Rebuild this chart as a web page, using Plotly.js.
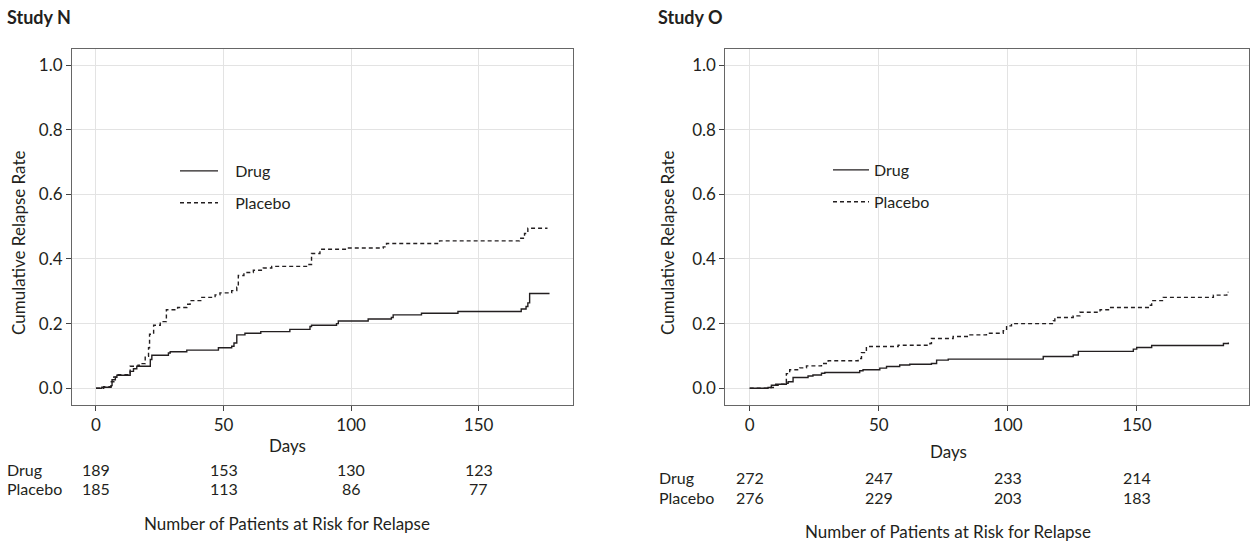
<!DOCTYPE html>
<html><head><meta charset="utf-8">
<script src="https://cdn.plot.ly/plotly-3.0.1.min.js"></script>
<style>html,body{margin:0;padding:0;background:#fff}#chart{width:1251px;height:544px}</style>
</head><body><div id="chart"></div>
<script>
const FONT = 'Lato, "Noto Sans", sans-serif';
const INK = '#231f20';

const studyTitles = ['Study N', 'Study O'];
const seriesNames = ['Drug', 'Placebo'];
const xTitle = 'Days';
const yTitle = 'Cumulative Relapse Rate';
const riskTitle = 'Number of Patients at Risk for Relapse';

// Study N
const nDrugDays = [0,2.3,5.9,6.3,7.6,8.2,13.4,14.7,16.0,21.3,21.9,28.4,29.1,35.6,48,53.2,54.1,55.2,58.4,64.6,76,83.9,84.5,94.3,95,106.7,115.8,116.5,127.6,141.9,166.7,168.6,169.3,170,177.8];
const nDrugRate = [0,0.003,0.008,0.026,0.034,0.040,0.052,0.060,0.068,0.089,0.102,0.109,0.113,0.118,0.125,0.130,0.140,0.165,0.170,0.175,0.182,0.191,0.195,0.200,0.208,0.214,0.219,0.227,0.232,0.2375,0.245,0.253,0.264,0.293,0.293];
const nPlacDays = [0,3,6,7,8.2,13.4,16.5,17.3,19.3,20.6,21,22.6,25.2,27.6,32,35.6,36.9,41.5,46.7,48.6,53.2,55.2,55.8,58,61.7,65.6,68.9,83.2,84.5,87.8,98.2,112.6,113.9,134.7,166,168,169.3,177];
const nPlacRate = [0,0.005,0.02,0.035,0.042,0.068,0.071,0.076,0.099,0.125,0.167,0.195,0.206,0.243,0.25,0.26,0.271,0.281,0.289,0.295,0.302,0.3125,0.349,0.358,0.365,0.372,0.377,0.383,0.417,0.43,0.434,0.4375,0.448,0.456,0.464,0.479,0.495,0.495];

// Study O
const oDrugDays = [0,7.1,8.4,10.1,14.2,14.9,16.8,22.6,24.5,27.8,29.1,42.6,43.9,50.4,53,58.1,62,70.4,72.4,76.9,113.7,125.3,127.3,148.6,149.9,155.7,183.5,185.4];
const oDrugRate = [0,0.002,0.009,0.012,0.0155,0.02,0.033,0.038,0.041,0.0465,0.0485,0.054,0.057,0.062,0.067,0.072,0.074,0.0765,0.087,0.09,0.098,0.103,0.114,0.121,0.126,0.132,0.1385,0.1415];
const oPlacDays = [0,7.1,9.5,12,13.6,14.2,15.5,19.4,22,27.8,30.4,42,43.3,45.2,57.5,69.8,70.4,78.8,85.3,91.7,98.2,99.5,101.4,117.6,118.2,125.3,127.9,135.7,139.5,154.4,155.7,160.2,179.6,184.8,185.4];
const oPlacRate = [0,0.002,0.009,0.012,0.0175,0.045,0.057,0.063,0.069,0.0765,0.085,0.092,0.11,0.129,0.133,0.1385,0.154,0.16,0.165,0.17,0.178,0.193,0.2,0.209,0.219,0.224,0.235,0.243,0.25,0.257,0.271,0.281,0.288,0.297,0.297];

// Risk tables
const riskDays = [0, 50, 100, 150];
const nRiskDrug = [189, 153, 130, 123];
const nRiskPlacebo = [185, 113, 86, 77];
const oRiskDrug = [272, 247, 233, 214];
const oRiskPlacebo = [276, 229, 203, 183];

const xTicks = [0, 50, 100, 150];
const yTicks = [0, 0.2, 0.4, 0.6, 0.8, 1.0];

// page geometry
const W = 1251, H = 544, ML = 72, MR = 2, MT = 49, MB = 139;
const PW = W - ML - MR, PH = H - MT - MB;
const px2x = px => (px - ML) / PW;
const py2y = py => (H - MB - py) / PH;

const solid = {color: INK, width: 1.4, shape: 'hv'};
const dashed = {color: INK, width: 1.4, shape: 'hv', dash: '4px,3px'};
const pad = s => '\u00a0\u00a0\u00a0' + s;

const traces = [
  {x: nDrugDays, y: nDrugRate, name: pad(seriesNames[0]), type: 'scatter', mode: 'lines', line: solid, xaxis: 'x', yaxis: 'y', legend: 'legend', legendgroup: 'a'},
  {x: nPlacDays, y: nPlacRate, name: pad(seriesNames[1]), type: 'scatter', mode: 'lines', line: dashed, xaxis: 'x', yaxis: 'y', legend: 'legend', legendgroup: 'b'},
  {x: oDrugDays, y: oDrugRate, name: seriesNames[0], type: 'scatter', mode: 'lines', line: solid, xaxis: 'x2', yaxis: 'y2', legend: 'legend2', legendgroup: 'c'},
  {x: oPlacDays, y: oPlacRate, name: seriesNames[1], type: 'scatter', mode: 'lines', line: dashed, xaxis: 'x2', yaxis: 'y2', legend: 'legend2', legendgroup: 'd'}
];

const tickFont = {family: FONT, size: 17, color: INK};
function xAxis(domain, range, anchor) {
  return {domain, range, anchor, tickvals: xTicks, ticks: 'outside', ticklen: 5, tickcolor: '#444',
    showgrid: true, gridcolor: '#e3e3e3', gridwidth: 1, zeroline: false,
    showline: true, mirror: true, linecolor: '#666', linewidth: 1, tickfont: tickFont, fixedrange: true};
}
function yAxis(anchor) {
  return {anchor, range: [-0.052, 1.05], tickvals: yTicks, tickformat: '.1f', ticks: 'outside', ticklen: 5, tickcolor: '#444',
    showgrid: true, gridcolor: '#e3e3e3', gridwidth: 1, zeroline: false,
    showline: true, mirror: true, linecolor: '#666', linewidth: 1, tickfont: tickFont, fixedrange: true};
}

const annFont = {family: FONT, size: 17, color: INK};
const tblFont = {family: FONT, size: 16, color: INK};
const ann = [];
function txt(o) { ann.push(Object.assign({showarrow: false, font: annFont, yanchor: 'middle', borderpad: 0, borderwidth: 0}, o)); }

// titles
const titleFont = {family: FONT, size: 18, color: INK};
txt({text: '<b>' + studyTitles[0] + '</b>', xref: 'paper', yref: 'paper', x: px2x(7), y: py2y(17), xanchor: 'left', font: titleFont});
txt({text: '<b>' + studyTitles[1] + '</b>', xref: 'paper', yref: 'paper', x: px2x(658), y: py2y(17), xanchor: 'left', font: titleFont});
// y titles
txt({text: yTitle, xref: 'paper', yref: 'paper', x: px2x(18), y: py2y(243), textangle: -90, xanchor: 'center'});
txt({text: yTitle, xref: 'paper', yref: 'paper', x: px2x(667), y: py2y(243), textangle: -90, xanchor: 'center'});
// x titles
txt({text: xTitle, xref: 'x', yref: 'paper', x: 75, y: py2y(445), xanchor: 'center'});
txt({text: xTitle, xref: 'x2', yref: 'paper', x: 77, y: py2y(451), xanchor: 'center'});

// risk tables
function riskTable(xref, drug, plac, yD, yP, yT, labelPx, titleDay) {
  txt({text: seriesNames[0], xref: 'paper', yref: 'paper', x: px2x(labelPx), y: py2y(yD), xanchor: 'left', font: tblFont});
  txt({text: seriesNames[1], xref: 'paper', yref: 'paper', x: px2x(labelPx), y: py2y(yP), xanchor: 'left', font: tblFont});
  riskDays.forEach((d, i) => {
    txt({text: String(drug[i]), xref, yref: 'paper', x: d, y: py2y(yD), xanchor: 'center', font: tblFont});
    txt({text: String(plac[i]), xref, yref: 'paper', x: d, y: py2y(yP), xanchor: 'center', font: tblFont});
  });
  txt({text: riskTitle, xref, yref: 'paper', x: titleDay, y: py2y(yT), xanchor: 'center'});
}
riskTable('x', nRiskDrug, nRiskPlacebo, 469, 489, 523, 7, 75);
riskTable('x2', oRiskDrug, oRiskPlacebo, 477, 497, 531, 659, 77);

const legFont = {family: FONT, size: 16, color: INK};
const layout = {
  width: W, height: H,
  margin: {l: ML, r: MR, t: MT, b: MB, pad: 0},
  paper_bgcolor: '#fff', plot_bgcolor: '#fff',
  font: {family: FONT, color: INK, size: 17},
  xaxis: xAxis([0, px2x(573)], [-9.4, 187], 'y'),
  yaxis: yAxis('x'),
  xaxis2: xAxis([px2x(725.3), 1], [-9.45, 193.4], 'y2'),
  yaxis2: yAxis('x2'),
  showlegend: true,
  legend: {x: px2x(175), y: py2y(154), xanchor: 'left', yanchor: 'top', xref: 'paper', yref: 'paper',
    bgcolor: 'rgba(0,0,0,0)', borderwidth: 0, font: legFont, itemwidth: 38, tracegroupgap: 8, traceorder: 'grouped'},
  legend2: {x: px2x(828), y: py2y(153), xanchor: 'left', yanchor: 'top', xref: 'paper', yref: 'paper',
    bgcolor: 'rgba(0,0,0,0)', borderwidth: 0, font: legFont, itemwidth: 36, tracegroupgap: 8, traceorder: 'grouped'},
  annotations: ann
};

Plotly.newPlot('chart', traces, layout, {displayModeBar: false, staticPlot: true});
</script>
</body></html>
